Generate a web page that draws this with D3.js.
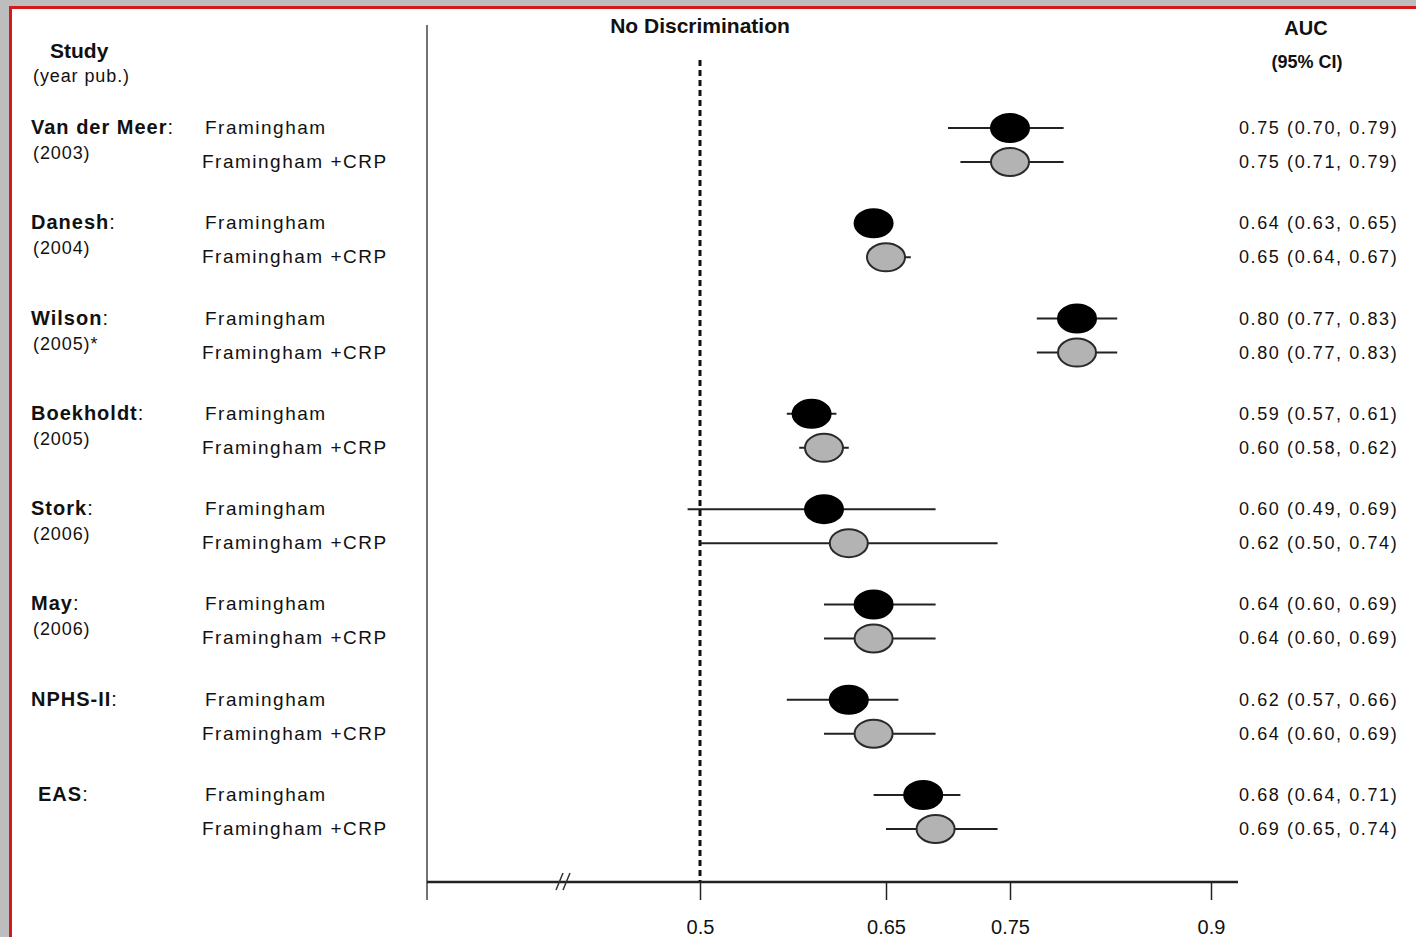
<!DOCTYPE html>
<html>
<head>
<meta charset="utf-8">
<script src="https://cdn.jsdelivr.net/npm/d3@7"></script>
<style>
    html, body { margin: 0; padding: 0; background: #bdbdbd; }
    svg { display: block; font-family: "Liberation Sans", Arial, sans-serif; }
    .lbl { font-size: 19px; fill: #111; letter-spacing: 1.5px; }
    .study { font-size: 20px; font-weight: bold; fill: #111; letter-spacing: 1px; }
    .year { font-size: 18px; fill: #111; letter-spacing: 0.9px; }
    .val { font-size: 18px; fill: #111; letter-spacing: 1.6px; }
    .head { font-size: 21px; font-weight: bold; fill: #111; }
</style>
</head>
<body>
<script>
    // data
    const studies = ['Van der Meer', 'Danesh', 'Wilson', 'Boekholdt', 'Stork', 'May', 'NPHS-II', 'EAS'];
    const years = ['(2003)', '(2004)', '(2005)*', '(2005)', '(2006)', '(2006)', '', ''];
    const models = ['Framingham', 'Framingham +CRP'];
    const aucBase = [0.75, 0.64, 0.80, 0.59, 0.60, 0.64, 0.62, 0.68];
    const lowBase = [0.70, 0.63, 0.77, 0.57, 0.49, 0.60, 0.57, 0.64];
    const highBase = [0.79, 0.65, 0.83, 0.61, 0.69, 0.69, 0.66, 0.71];
    const aucCrp = [0.75, 0.65, 0.80, 0.60, 0.62, 0.64, 0.64, 0.69];
    const lowCrp = [0.71, 0.64, 0.77, 0.58, 0.50, 0.60, 0.60, 0.65];
    const highCrp = [0.79, 0.67, 0.83, 0.62, 0.74, 0.69, 0.69, 0.74];
    const xTicks = [0.5, 0.65, 0.75, 0.9];
    const refLine = 0.5;

    const W = 1416, H = 937,
        plotLeft = 427, plotRight = 1238, axisY = 882;

    const svg = d3.select('body').append('svg').attr('width', W).attr('height', H);

    // page frame
    svg.append('rect').attr('x', 10).attr('y', 7).attr('width', W).attr('height', H).attr('fill', '#fff');
    svg.append('path').attr('d', `M10.5,${H}V7.5H${W}`).attr('fill', 'none').attr('stroke', '#d21a1a').attr('stroke-width', 3);

    const x = d3.scaleLinear().domain([0.5, 0.75, 0.9]).range([700, 1010, 1211]);
    const y = d3.scalePoint().domain(studies).range([128, 795]);
    const crpOffset = 34;

    const fmt = d3.format('.2f');
    const rows = [];
    studies.forEach((s, i) => {
        rows.push({ study: s, model: 0, auc: aucBase[i], lo: lowBase[i], hi: highBase[i], y: y(s) });
        rows.push({ study: s, model: 1, auc: aucCrp[i], lo: lowCrp[i], hi: highCrp[i], y: y(s) + crpOffset });
    });

    // headers
    svg.append('text').attr('class', 'head').attr('x', 50).attr('y', 58).text('Study');
    svg.append('text').attr('class', 'year').attr('x', 33).attr('y', 82).text('(year pub.)');
    svg.append('text').attr('class', 'head').attr('x', 700).attr('y', 33).attr('text-anchor', 'middle').text('No Discrimination');
    svg.append('text').attr('class', 'head').attr('x', 1306).attr('y', 35).attr('text-anchor', 'middle')
        .style('font-size', '20px').text('AUC');
    svg.append('text').attr('class', 'head').attr('x', 1307).attr('y', 68).attr('text-anchor', 'middle')
        .style('font-size', '18px').text('(95% CI)');

    // study names and years
    const st = svg.append('g').selectAll('g').data(studies).enter().append('g');
    st.append('text').attr('class', 'study')
        .attr('x', d => d === 'EAS' ? 38 : 31)
        .attr('y', d => y(d) + 6)
        .each(function (d) {
            const t = d3.select(this);
            t.append('tspan').text(d);
            t.append('tspan').style('font-weight', 'normal').text(':');
        });
    st.append('text').attr('class', 'year').attr('x', 33).attr('y', (d, i) => y(d) + 31).text((d, i) => years[i]);

    // model labels
    svg.append('g').selectAll('text').data(rows).enter().append('text')
        .attr('class', 'lbl')
        .attr('x', d => d.model === 0 ? 205 : 202)
        .attr('y', d => d.y + 6)
        .text(d => models[d.model]);

    // AUC values
    svg.append('g').selectAll('text').data(rows).enter().append('text')
        .attr('class', 'val')
        .attr('x', 1239)
        .attr('y', d => d.y + 6)
        .text(d => `${fmt(d.auc)} (${fmt(d.lo)}, ${fmt(d.hi)})`);

    // left frame line of the plot
    svg.append('line').attr('x1', plotLeft).attr('x2', plotLeft).attr('y1', 25).attr('y2', 900)
        .attr('stroke', '#444').attr('stroke-width', 1.5);

    // reference line
    svg.append('line').attr('x1', x(refLine)).attr('x2', x(refLine)).attr('y1', 60).attr('y2', axisY)
        .attr('stroke', '#111').attr('stroke-width', 3).attr('stroke-dasharray', '6,4');

    // x axis
    const axisG = svg.append('g').attr('transform', `translate(0,${axisY})`)
        .call(d3.axisBottom(x).tickValues(xTicks).tickSize(18).tickPadding(20).tickFormat(d => String(d)));
    axisG.select('.domain').remove();
    axisG.selectAll('.tick line').attr('stroke', '#222').attr('stroke-width', 1.5);
    axisG.selectAll('.tick text').attr('fill', '#111').style('font-size', '20px')
        .style('font-family', '"Liberation Sans", Arial, sans-serif');
    svg.append('line').attr('x1', plotLeft).attr('x2', plotRight).attr('y1', axisY).attr('y2', axisY)
        .attr('stroke', '#222').attr('stroke-width', 2.5);

    // axis break marks
    [0, 7].forEach(dx => {
        svg.append('line')
            .attr('x1', 556 + dx).attr('y1', axisY + 8)
            .attr('x2', 563 + dx).attr('y2', axisY - 9)
            .attr('stroke', '#333').attr('stroke-width', 1.5);
    });

    // confidence intervals and point estimates
    const marks = svg.append('g');
    marks.selectAll('line').data(rows).enter().append('line')
        .attr('x1', d => x(d.lo)).attr('x2', d => x(d.hi))
        .attr('y1', d => d.y).attr('y2', d => d.y)
        .attr('stroke', '#222').attr('stroke-width', 2);
    marks.selectAll('ellipse').data(rows).enter().append('ellipse')
        .attr('cx', d => x(d.auc)).attr('cy', d => d.y)
        .attr('rx', 19).attr('ry', 14)
        .attr('fill', d => d.model === 0 ? '#000' : '#b3b3b3')
        .attr('stroke', d => d.model === 0 ? '#000' : '#2a2a2a')
        .attr('stroke-width', 2);
</script>
</body>
</html>
